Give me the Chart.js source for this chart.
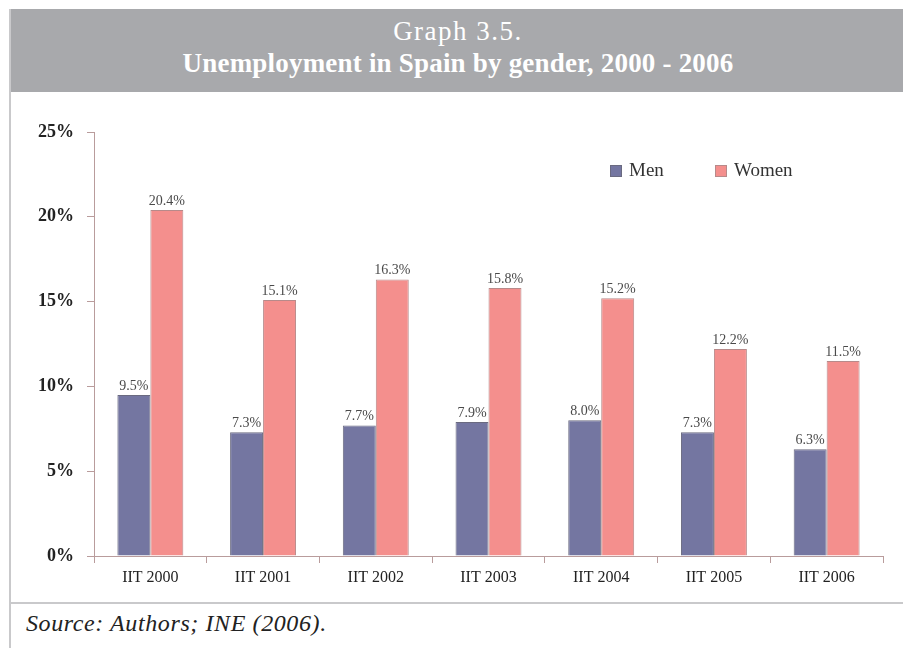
<!DOCTYPE html>
<html>
<head>
<meta charset="utf-8">
<script src="https://cdn.jsdelivr.net/npm/chart.js@4.4.0/dist/chart.umd.min.js"></script>
<style>
    html, body {
        margin: 0;
        padding: 0;
        background: #ffffff;
        width: 903px;
        height: 648px;
        overflow: hidden;
        font-family: "Liberation Serif", "DejaVu Serif", serif;
    }
    #frame {
        position: absolute;
        left: 9px;
        top: 9px;
        width: 894px;
        height: 639px;
        border-left: 2px solid #c9c9cb;
    }
    #header {
        height: 83px;
        background: #a8a9ac;
        color: #ffffff;
        text-align: center;
        box-sizing: border-box;
        padding-top: 7px;
    }
    #header .num {
        font-size: 27px;
        line-height: 30px;
        letter-spacing: 1.5px;
    }
    #header .name {
        font-size: 27px;
        line-height: 34px;
        font-weight: bold;
        letter-spacing: 0.2px;
    }
    #chartBox {
        position: absolute;
        left: -9px;
        top: 83px;
        width: 903px;
        height: 511px;
    }
    #rule {
        position: absolute;
        left: 0;
        top: 593px;
        width: 894px;
        height: 2px;
        background: #c9c9cb;
    }
    #source {
        position: absolute;
        left: 15px;
        top: 601px;
        font-style: italic;
        font-size: 24px;
        letter-spacing: 0.6px;
        color: #222222;
    }
</style>
</head>
<body>

<div id="frame">
    <div id="header">
        <div class="num">Graph 3.5.</div>
        <div class="name">Unemployment in Spain by gender, 2000 - 2006</div>
    </div>
    <div id="chartBox"><canvas id="genderChart" width="903" height="511"></canvas></div>
    <div id="rule"></div>
    <div id="source">Source: Authors; INE (2006).</div>
</div>

<script>

// ---------------------------
// Data
// ---------------------------

const periods = ["IIT 2000", "IIT 2001", "IIT 2002", "IIT 2003", "IIT 2004", "IIT 2005", "IIT 2006"];

const menRates = [9.5, 7.3, 7.7, 7.9, 8.0, 7.3, 6.3];

const womenRates = [20.4, 15.1, 16.3, 15.8, 15.2, 12.2, 11.5];

const yTicks = [0, 5, 10, 15, 20, 25];

const SERIF = '"Liberation Serif", "DejaVu Serif", serif';
const AXIS_COLOR = "#b99c9c";


// ---------------------------
// Value labels above each bar
// ---------------------------

const barValueLabels = {

    id: "barValueLabels",

    afterDatasetsDraw(chart) {

        const ctx = chart.ctx;

        ctx.save();
        ctx.font = "14px " + SERIF;
        ctx.fillStyle = "#4a4a4a";
        ctx.textAlign = "center";
        ctx.textBaseline = "bottom";

        chart.data.datasets.forEach(function(ds, i) {

            chart.getDatasetMeta(i).data.forEach(function(bar, j) {

                ctx.fillText(ds.data[j].toFixed(1) + "%", bar.x, bar.y - 2);

            });

        });

        ctx.restore();

    }

};


// ---------------------------
// Legend inside the plot area
// ---------------------------

const insideLegend = {

    id: "insideLegend",

    afterDraw(chart) {

        const ctx = chart.ctx;
        const area = chart.chartArea;
        let x = area.left + 516;
        const y = area.top + 39;

        ctx.save();
        ctx.font = "19px " + SERIF;
        ctx.textBaseline = "middle";

        chart.data.datasets.forEach(function(ds) {

            ctx.fillStyle = ds.backgroundColor;
            ctx.strokeStyle = ds.borderColor;
            ctx.lineWidth = 1;
            ctx.fillRect(x, y - 6, 12, 12);
            ctx.strokeRect(x + 0.5, y - 5.5, 11, 11);

            ctx.fillStyle = "#333333";
            ctx.fillText(ds.label, x + 19, y);

            x += 105;

        });

        ctx.restore();

    }

};


// ---------------------------
// Unemployment by gender
// ---------------------------

const genderCanvas = document.getElementById("genderChart");

new Chart(genderCanvas, {

    type: "bar",

    data: {

        labels: periods,

        datasets: [

            {
                label: "Men",
                data: menRates,
                backgroundColor: "#7476a1",
                borderColor: "#6a6a80",
                borderWidth: 1
            },

            {
                label: "Women",
                data: womenRates,
                backgroundColor: "#f48f8d",
                borderColor: "#b78a8a",
                borderWidth: 1
            }

        ]

    },

    options: {

        responsive: false,
        animation: false,

        layout: {
            padding: { top: 40, right: 22, bottom: 0, left: 0 }
        },

        categoryPercentage: 0.585,
        barPercentage: 1,

        plugins: {
            legend: { display: false },
            tooltip: { enabled: false }
        },

        scales: {

            x: {
                grid: {
                    display: true,
                    drawOnChartArea: false,
                    drawTicks: true,
                    tickLength: 7,
                    color: AXIS_COLOR
                },
                border: { color: AXIS_COLOR, width: 1 },
                ticks: {
                    color: "#222222",
                    font: { family: SERIF, size: 16 },
                    padding: 5
                },
                afterFit: function(scale) { scale.height = 47; }
            },

            y: {
                min: 0,
                max: 25,
                afterBuildTicks: function(scale) {
                    scale.ticks = yTicks.map(function(v) { return { value: v }; });
                },
                grid: {
                    display: true,
                    drawOnChartArea: false,
                    drawTicks: true,
                    tickLength: 7,
                    color: AXIS_COLOR
                },
                border: { color: AXIS_COLOR, width: 1 },
                ticks: {
                    color: "#222222",
                    font: { family: SERIF, size: 18, weight: "bold" },
                    padding: 13,
                    callback: function(value) {
                        return value + "%";
                    }
                },
                afterFit: function(scale) { scale.width = 92; }
            }

        }

    },

    plugins: [barValueLabels, insideLegend]

});

</script>

</body>
</html>
